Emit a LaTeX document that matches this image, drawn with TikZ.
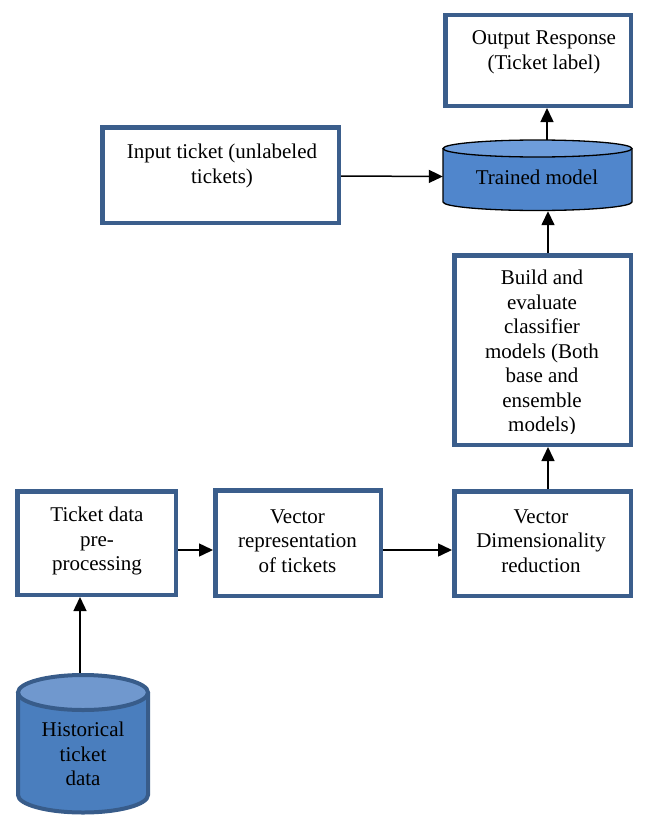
\documentclass[tikz,border=0pt]{standalone}
\usepackage{fontspec}
\setmainfont{Liberation Serif}
\newfontfamily\timesfont{Liberation Serif}
\usetikzlibrary{arrows.meta}
\definecolor{boxblue}{RGB}{59,94,140}
\definecolor{cylbody}{RGB}{80,134,204}
\definecolor{cyltop}{RGB}{110,157,219}
\definecolor{histbody}{RGB}{74,126,190}
\definecolor{histtop}{RGB}{112,152,206}
\definecolor{histline}{RGB}{56,92,138}
\begin{document}
\begin{tikzpicture}[x=1pt,y=-1pt,
  flowbox/.style={draw=boxblue,line width=4.5pt,fill=white,inner sep=0pt},
  txt/.style={align=center,inner sep=0pt,font=\timesfont\fontsize{21}{24.5}\selectfont},
  hold/.style={inner sep=0pt,draw=none},
  arr/.style={line width=1.5pt,-{Triangle[length=14pt,width=13pt]}}]
\useasboundingbox (0,0) rectangle (647,816);
% boxes
\node[flowbox,minimum width=185.5pt,minimum height=90.5pt] (out) at (538,60.5) {};
\node[flowbox,minimum width=236.5pt,minimum height=95.5pt] (inp) at (220.5,175) {};
\node[flowbox,minimum width=176.5pt,minimum height=189.5pt] (build) at (542.5,350) {};
\node[flowbox,minimum width=158.5pt,minimum height=103.5pt] (pre) at (96.5,543) {};
\node[flowbox,minimum width=165.5pt,minimum height=105.5pt] (vec) at (298,543) {};
\node[flowbox,minimum width=176.5pt,minimum height=104.5pt] (dim) at (542.5,543.5) {};
% trained model cylinder
\node[hold,minimum width=189pt,minimum height=71pt] (trained) at (537.5,175.5) {};
\fill[cylbody] (443,148.5) -- (443,202) arc[start angle=180,end angle=360,x radius=94.5,y radius=-8.5] -- (632,148.5) arc[start angle=0,end angle=180,x radius=94.5,y radius=-8.5] -- cycle;
\fill[cyltop] (537.5,148.5) ellipse[x radius=94.5,y radius=8.5];
\draw[line width=1.3pt] (443,148.5) -- (443,202) arc[start angle=180,end angle=360,x radius=94.5,y radius=-8.5] -- (632,148.5);
\draw[line width=1.3pt] (537.5,148.5) ellipse[x radius=94.5,y radius=8.5];
% historical cylinder
\node[hold,minimum width=134pt,minimum height=141pt] (hist) at (83.5,743.5) {};
\fill[histbody] (18,692.5) -- (18,795) arc[start angle=180,end angle=360,x radius=65,y radius=-17.5] -- (148,692.5) arc[start angle=0,end angle=180,x radius=65,y radius=-17.5] -- cycle;
\fill[histtop] (83,692.5) ellipse[x radius=65,y radius=17.5];
\draw[histline,line width=4pt] (18,692.5) -- (18,795) arc[start angle=180,end angle=360,x radius=65,y radius=-17.5] -- (148,692.5);
\draw[histline,line width=4pt] (83,692.5) ellipse[x radius=65,y radius=17.5];
% texts
\node[txt] (tout) at (544,52.5) {Output Response\\(Ticket label)};
\node[txt] (tinp) at (222,166) {Input ticket (unlabeled\\tickets)};
\node[txt] (ttrained) at (537,177) {Trained model};
\begin{scope}
\clip (455,256) rectangle (630,433);
\node[txt] (tbuild) at (542,353) {Build and\\evaluate\\classifier\\models (Both\\base and\\ensemble\\models)};
\end{scope}
\node[txt] (tpre) at (97,541) {Ticket data\\pre-\\processing};
\node[txt] (tvec) at (297.5,541) {Vector\\representation\\of tickets};
\node[txt] (tdim) at (541,541) {Vector\\Dimensionality\\reduction};
\node[txt] (thist) at (83,754) {Historical\\ticket\\data};
% connectors
\draw[arr] ([xshift=-3.5pt]hist.north) -- ([xshift=-16.5pt]pre.south);
\draw[arr] ([yshift=-7pt]pre.east) -- ([yshift=-7pt]vec.west);
\draw[arr] ([yshift=-7pt]vec.east) -- ([yshift=-6.5pt]dim.west);
\draw[arr] ([xshift=5.5pt]dim.north) -- ([xshift=5.5pt]build.south);
\draw[arr] ([xshift=5.5pt]build.north) -- ([xshift=10.5pt]trained.south);
\draw[arr] ([yshift=-1pt]inp.east) -- ([yshift=-1pt]trained.west);
\draw[arr] ([xshift=9.5pt]trained.north) -- ([xshift=9pt]out.south);
\end{tikzpicture}
\end{document}
